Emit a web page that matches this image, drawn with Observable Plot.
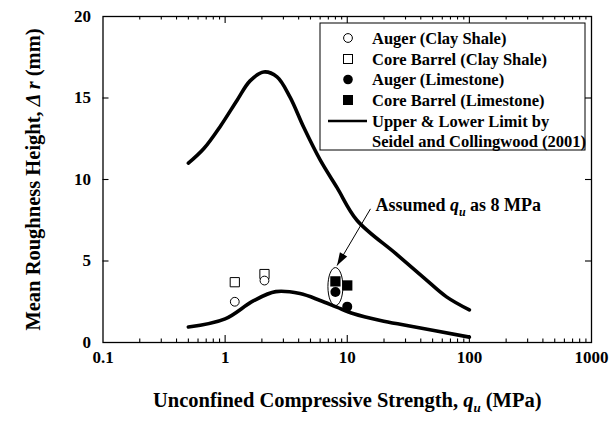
<!DOCTYPE html>
<html><head><meta charset="utf-8">
<script src="https://cdn.jsdelivr.net/npm/d3@7"></script>
<script src="https://cdn.jsdelivr.net/npm/@observablehq/plot@0.6"></script>
<style>
body{margin:0;background:#fff;}
#chart{width:610px;height:427px;}
</style></head><body><div id="chart"></div>
<script>
// ---- data ----
const augerClayX = [1.2, 2.1];
const augerClayY = [2.5, 3.8];
const coreClayX = [1.2, 2.1];
const coreClayY = [3.7, 4.2];
const augerLimeX = [8, 10];
const augerLimeY = [3.1, 2.2];
const coreLimeX = [8, 10];
const coreLimeY = [3.75, 3.5];
const upperX = [0.5, 0.67, 0.92, 1.25, 1.6, 2.07, 2.66, 3.4, 4.4, 6.0, 8.25, 12, 25, 42, 65, 100];
const upperY = [11, 11.9, 13.3, 14.85, 16.05, 16.6, 16.3, 15.05, 13.2, 11.2, 9.5, 7.5, 5.45, 4.0, 2.8, 2.0];
const lowerX = [0.5, 1.0, 1.7, 2.6, 4.1, 6.0, 8.2, 11.3, 18.7, 30.8, 100];
const lowerY = [0.95, 1.45, 2.55, 3.12, 3.0, 2.58, 2.17, 1.76, 1.35, 1.04, 0.33];
const xTicks = [0.1, 1, 10, 100, 1000];
const xMajorInner = [1, 10, 100];
const xMinor = [0.2,0.3,0.4,0.5,0.6,0.7,0.8,0.9, 2,3,4,5,6,7,8,9, 20,30,40,50,60,70,80,90, 200,300,400,500,600,700,800,900];
const yTicks = [0, 5, 10, 15, 20];
const yMajorInner = [5, 10, 15];
const legendLabels = ["Auger (Clay Shale)", "Core Barrel (Clay Shale)", "Auger (Limestone)", "Core Barrel (Limestone)", "Upper & Lower Limit by", "Seidel and Collingwood (2001)"];
const xLabel = "Unconfined Compressive Strength, qu (MPa)";
const yLabel = "Mean Roughness Height, \u0394 r (mm)";
const noteText = "Assumed qu as 8 MPa";
const note = {x: 17, y: 8.4};
const arrowLine = {x1: 15.5, y1: 8.2, x2: 8.25, y2: 4.72};
const ellipseAt = {x: 8, y: 3.43};

const FONT = '"Liberation Serif","Times New Roman",serif';
const zip = (xs, ys) => xs.map((x, i) => ({x, y: ys[i]}));

const W = 610, H = 427, ML = 102.5, MR = 19, MT = 16, MB = 85;
const FW = W - ML - MR, FH = H - MT - MB;

const ellipseSym = {draw(ctx) {
  const rx = 7.5, ry = 19, k = 0.5523;
  ctx.moveTo(rx, 0);
  ctx.bezierCurveTo(rx, ry*k, rx*k, ry, 0, ry);
  ctx.bezierCurveTo(-rx*k, ry, -rx, ry*k, -rx, 0);
  ctx.bezierCurveTo(-rx, -ry*k, -rx*k, -ry, 0, -ry);
  ctx.bezierCurveTo(rx*k, -ry, rx, -ry*k, rx, 0);
  ctx.closePath();
}};
const headSym = {draw(ctx) { ctx.moveTo(0, 0); ctx.lineTo(-4.2, -13); ctx.lineTo(4.2, -13); ctx.closePath(); }};

const tk = {stroke: "#000", strokeWidth: 1.1};

const chart = Plot.plot({
  width: W, height: H,
  marginLeft: ML, marginRight: MR, marginTop: MT, marginBottom: MB,
  x: {type: "log", domain: [0.1, 1000]},
  y: {domain: [0, 20]},
  style: {fontFamily: FONT, fontWeight: "bold", color: "#000", background: "#fff", overflow: "visible"},
  marks: [
    Plot.axisX({ticks: xTicks, tickSize: 0, tickPadding: 8, tickFormat: d => String(d), label: null, fontSize: 17}),
    Plot.axisY({ticks: yTicks, tickSize: 0, tickPadding: 12, label: null, fontSize: 17}),
    // inward ticks (bottom, top, left, right)
    Plot.tickX(xMajorInner, {x: d => d, insetTop: FH - 7, ...tk}),
    Plot.tickX(xMinor, {x: d => d, insetTop: FH - 3.5, ...tk}),
    Plot.tickX(xMajorInner, {x: d => d, insetBottom: FH - 7, ...tk}),
    Plot.tickX(xMinor, {x: d => d, insetBottom: FH - 3.5, ...tk}),
    Plot.tickY(yMajorInner, {y: d => d, insetRight: FW - 6, ...tk}),
    Plot.tickY(yMajorInner, {y: d => d, insetLeft: FW - 6, ...tk}),
    Plot.frame({stroke: "#000", strokeWidth: 1.3}),
    // limit curves
    Plot.line(zip(upperX, upperY), {x: "x", y: "y", curve: "catmull-rom", stroke: "#000", strokeWidth: 3.6}),
    Plot.line(zip(lowerX, lowerY), {x: "x", y: "y", curve: "catmull-rom", stroke: "#000", strokeWidth: 3.6}),
    // data
    Plot.dot(zip(coreClayX, coreClayY), {x: "x", y: "y", symbol: "square", r: 5.2, stroke: "#000", fill: "#fff", strokeWidth: 1}),
    Plot.dot(zip(augerClayX, augerClayY), {x: "x", y: "y", r: 4.4, stroke: "#000", fill: "#fff", strokeWidth: 1}),
    Plot.dot(zip(augerLimeX, augerLimeY), {x: "x", y: "y", r: 5, fill: "#000"}),
    Plot.dot(zip(coreLimeX, coreLimeY), {x: "x", y: "y", symbol: "square", r: 5.8, fill: "#000"}),
    // annotation
    Plot.dot([ellipseAt], {x: "x", y: "y", symbol: ellipseSym, fill: "none", stroke: "#000", strokeWidth: 1}),
    Plot.link([arrowLine], {x1: "x1", y1: "y1", x2: "x2", y2: "y2", stroke: "#000", strokeWidth: 1}),
    Plot.dot([arrowLine], {x: "x2", y: "y2", symbol: headSym, rotate: 30, fill: "#000", stroke: "none"}),
    Plot.text([noteText], {x: note.x, y: note.y, text: d => d, textAnchor: "start", lineAnchor: "middle", fontSize: 18, fontWeight: "bold"}),
    // axis titles
    Plot.text([xLabel], {frameAnchor: "bottom", text: d => d, dy: 58, textAnchor: "middle", lineAnchor: "middle", fontSize: 20.5, fontWeight: "bold"}),
    Plot.text([yLabel], {frameAnchor: "left", text: d => d, dx: -70, rotate: -90, textAnchor: "middle", lineAnchor: "middle", fontSize: 20.5, fontWeight: "bold"})
  ]
});

// rich text: italic q with subscript u, italic Δ r
function rich(svg, plain, parts) {
  d3.select(svg).selectAll("text").filter(function() { return this.textContent === plain; }).each(function() {
    const t = d3.select(this);
    t.selectAll("*").remove();
    t.text(null);
    let shift = 0;
    parts.forEach(p => {
      const s = t.append("tspan").text(p.t);
      if (p.i) s.attr("font-style", "italic");
      if (p.sub) { s.attr("font-size", p.sub).attr("dy", 5); shift = 5; }
      else if (shift) { s.attr("dy", -shift); shift = 0; }
    });
  });
}
rich(chart, xLabel, [{t: "Unconfined Compressive Strength, "}, {t: "q", i: 1}, {t: "u", i: 1, sub: "13px"}, {t: " (MPa)"}]);
rich(chart, noteText, [{t: "Assumed "}, {t: "q", i: 1}, {t: "u", i: 1, sub: "12px"}, {t: " as 8 MPa"}]);
rich(chart, yLabel, [{t: "Mean Roughness Height, "}, {t: "\u0394 r", i: 1}, {t: " (mm)"}]);

// legend inside plot area
const svg = d3.select(chart);
const g = svg.append("g").attr("font-family", FONT).attr("font-weight", "bold").attr("font-size", 16.5).attr("text-anchor", "start");
g.append("rect").attr("x", 320).attr("y", 23).attr("width", 265).attr("height", 127).attr("fill", "#fff").attr("stroke", "#000").attr("stroke-width", 1);
const rowsY = [38, 59, 79.5, 100, 121, 141];
const mx = 348;
g.append("circle").attr("cx", mx).attr("cy", rowsY[0]).attr("r", 4.4).attr("fill", "#fff").attr("stroke", "#000");
g.append("rect").attr("x", mx - 4.5).attr("y", rowsY[1] - 4.5).attr("width", 9).attr("height", 9).attr("fill", "#fff").attr("stroke", "#000");
g.append("circle").attr("cx", mx).attr("cy", rowsY[2]).attr("r", 4.8).attr("fill", "#000");
g.append("rect").attr("x", mx - 5).attr("y", rowsY[3] - 5).attr("width", 10).attr("height", 10).attr("fill", "#000");
g.append("line").attr("x1", 328).attr("x2", 367).attr("y1", rowsY[4]).attr("y2", rowsY[4]).attr("stroke", "#000").attr("stroke-width", 2.5);
legendLabels.forEach((s, i) => {
  g.append("text").attr("x", 372).attr("y", rowsY[i] + 5.5).attr("text-anchor", "start").text(s);
});

document.getElementById("chart").appendChild(chart);
</script></body></html>
